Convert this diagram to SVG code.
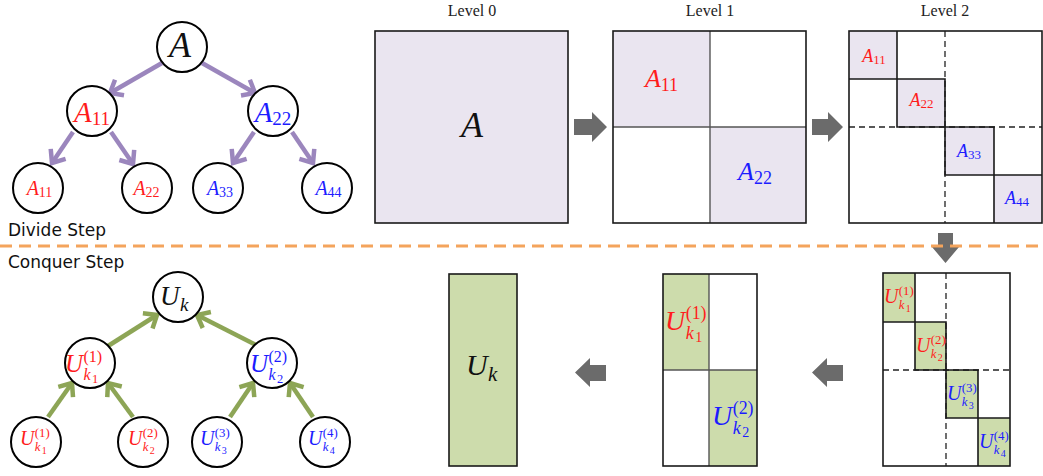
<svg xmlns="http://www.w3.org/2000/svg" width="1043" height="476" viewBox="0 0 1043 476">
<style>
.node circle{fill:#fff;stroke:#000;stroke-width:2}
.m{font-family:"Liberation Serif","DejaVu Serif",serif}
.i{font-style:italic}
.red{fill:#ff1c1c}
.blue{fill:#1c1cff}
.blk{fill:#111}
.lvl{font-family:"Liberation Serif",serif;font-size:16px;fill:#222;text-anchor:middle}
.step{font-family:"DejaVu Sans",sans-serif;font-size:17px;fill:#111}
.mat{stroke:#1a1a1a;stroke-width:1.6;fill:none}
.inner{stroke:#555;stroke-width:1.4;fill:none}
.lav{fill:#eae5f0}
.grn{fill:#cddcac}
.dash{stroke:#222;stroke-width:1.3;stroke-dasharray:6 4;fill:none}
.garr{fill:#6b6b6b}
.pe{stroke:#9b86bd;stroke-width:4.5;fill:none}
.ge{stroke:#8da556;stroke-width:4.5;fill:none}
.c{text-anchor:middle}
</style>
<defs>
<marker id="ap" markerUnits="userSpaceOnUse" orient="auto" overflow="visible" markerWidth="20" markerHeight="20" refX="0" refY="0">
<path d="M-11,-9 L0,0 L-11,9" fill="none" stroke="#9b86bd" stroke-width="4.5"/>
</marker>
<marker id="ag" markerUnits="userSpaceOnUse" orient="auto" overflow="visible" markerWidth="20" markerHeight="20" refX="0" refY="0">
<path d="M-11,-9 L0,0 L-11,9" fill="none" stroke="#8da556" stroke-width="4.5"/>
</marker>
</defs>
<rect width="1043" height="476" fill="#fff"/>

<!-- connectors -->
<g id="connectors">
<line class="pe" x1="162" y1="63" x2="110" y2="93" marker-end="url(#ap)"/>
<line class="pe" x1="202" y1="63" x2="255" y2="93" marker-end="url(#ap)"/>
<line class="pe" x1="73" y1="132" x2="52" y2="163" marker-end="url(#ap)"/>
<line class="pe" x1="111" y1="132" x2="133" y2="164" marker-end="url(#ap)"/>
<line class="pe" x1="254" y1="132" x2="233" y2="163" marker-end="url(#ap)"/>
<line class="pe" x1="292" y1="132" x2="313" y2="163" marker-end="url(#ap)"/>
<line class="ge" x1="48" y1="417" x2="72" y2="383" marker-end="url(#ag)"/>
<line class="ge" x1="133" y1="417" x2="108" y2="383" marker-end="url(#ag)"/>
<line class="ge" x1="230" y1="417" x2="253" y2="383" marker-end="url(#ag)"/>
<line class="ge" x1="313" y1="417" x2="290" y2="383" marker-end="url(#ag)"/>
<line class="ge" x1="108" y1="346" x2="157" y2="315" marker-end="url(#ag)"/>
<line class="ge" x1="258" y1="346" x2="197" y2="315" marker-end="url(#ag)"/>
<path class="garr" d="M574,119 H592 V112 L607,127 L592,142 V135 H574 Z"/>
<path class="garr" d="M812,119 H828 V112 L843,127 L828,142 V135 H812 Z"/>
<path class="garr" d="M938,233 H953 V247 H959 L945.5,263 L932,247 H938 Z"/>
<path class="garr" d="M606,365 H590 V358 L575,372.5 L590,387 V381 H606 Z"/>
<path class="garr" d="M843,365 H827 V358 L812,372.5 L827,387 V381 H843 Z"/>
</g>

<line x1="0" y1="246" x2="1043" y2="246" stroke="#f4a45c" stroke-width="3" stroke-dasharray="12 7"/>

<text class="step" x="8" y="236">Divide Step</text>
<text class="step" x="8" y="268">Conquer Step</text>

<!-- divide tree -->
<g id="dA" class="node"><circle cx="182" cy="47" r="25"/><text class="m i c blk" x="180" y="57" font-size="36">A</text></g>
<g id="dA11" class="node"><circle cx="92" cy="111" r="25"/><text class="m c red" x="92" y="122" font-size="29"><tspan class="i">A</tspan><tspan font-size="19" dy="3">11</tspan></text></g>
<g id="dA22" class="node"><circle cx="273" cy="111" r="25"/><text class="m c blue" x="273" y="122" font-size="29"><tspan class="i">A</tspan><tspan font-size="19" dy="3">22</tspan></text></g>
<g id="dL11" class="node"><circle cx="38" cy="188" r="25"/><text class="m c red" x="39.5" y="195" font-size="20"><tspan class="i">A</tspan><tspan font-size="14" dy="2">11</tspan></text></g>
<g id="dL22" class="node"><circle cx="147" cy="188" r="25"/><text class="m c red" x="146.5" y="195" font-size="20"><tspan class="i">A</tspan><tspan font-size="14" dy="2">22</tspan></text></g>
<g id="dL33" class="node"><circle cx="218" cy="188" r="25"/><text class="m c blue" x="220" y="195" font-size="20"><tspan class="i">A</tspan><tspan font-size="14" dy="2">33</tspan></text></g>
<g id="dL44" class="node"><circle cx="327" cy="188" r="25"/><text class="m c blue" x="328.5" y="195" font-size="20"><tspan class="i">A</tspan><tspan font-size="14" dy="2">44</tspan></text></g>

<!-- conquer tree -->
<g id="cUk" class="node"><circle cx="178" cy="297" r="25"/><text class="m blk" font-size="27"><tspan class="i" x="160" y="305">U</tspan><tspan class="i" x="180" y="311" font-size="19">k</tspan></text></g>
<g id="cU1" class="node"><circle cx="90" cy="363" r="25"/><text class="m red" font-size="25"><tspan class="i" x="65" y="372">U</tspan><tspan x="83.5" y="362" font-size="16">(1)</tspan><tspan class="i" x="83.5" y="380" font-size="16">k</tspan><tspan x="92" y="383" font-size="12.5">1</tspan></text></g>
<g id="cU2" class="node"><circle cx="272" cy="363" r="25"/><text class="m blue" font-size="25"><tspan class="i" x="250" y="372">U</tspan><tspan x="268.5" y="362" font-size="16">(2)</tspan><tspan class="i" x="268.5" y="380" font-size="16">k</tspan><tspan x="277" y="383" font-size="12.5">2</tspan></text></g>
<g id="cL1" class="node"><circle cx="36" cy="442" r="25"/><text class="m red" font-size="20"><tspan class="i" x="20" y="445">U</tspan><tspan x="34.8" y="437" font-size="12.8">(1)</tspan><tspan class="i" x="34.8" y="451.4" font-size="12.8">k</tspan><tspan x="41.8" y="454" font-size="10">1</tspan></text></g>
<g id="cL2" class="node"><circle cx="143" cy="442" r="25"/><text class="m red" font-size="20"><tspan class="i" x="128" y="445">U</tspan><tspan x="142.8" y="437" font-size="12.8">(2)</tspan><tspan class="i" x="142.8" y="451.4" font-size="12.8">k</tspan><tspan x="149.8" y="454" font-size="10">2</tspan></text></g>
<g id="cL3" class="node"><circle cx="217" cy="442" r="25"/><text class="m blue" font-size="20"><tspan class="i" x="200" y="445">U</tspan><tspan x="214.8" y="437" font-size="12.8">(3)</tspan><tspan class="i" x="214.8" y="451.4" font-size="12.8">k</tspan><tspan x="221.8" y="454" font-size="10">3</tspan></text></g>
<g id="cL4" class="node"><circle cx="325" cy="442" r="25"/><text class="m blue" font-size="20"><tspan class="i" x="308" y="445">U</tspan><tspan x="322.8" y="437" font-size="12.8">(4)</tspan><tspan class="i" x="322.8" y="451.4" font-size="12.8">k</tspan><tspan x="329.8" y="454" font-size="10">4</tspan></text></g>

<!-- divide matrices -->
<g id="level0">
<text class="lvl" x="472" y="16">Level 0</text>
<rect class="lav" x="375" y="31" width="193" height="192"/>
<rect class="mat" x="375" y="31" width="193" height="192"/>
<text class="m i c blk" x="472" y="137" font-size="36">A</text>
</g>
<g id="level1">
<text class="lvl" x="710" y="16">Level 1</text>
<rect class="lav" x="613" y="31" width="97" height="96"/>
<rect class="lav" x="710" y="127" width="96" height="96"/>
<line class="inner" x1="710" y1="31" x2="710" y2="223"/>
<line class="inner" x1="613" y1="127" x2="806" y2="127"/>
<rect class="mat" x="613" y="31" width="193" height="192"/>
<text class="m c red" x="661.5" y="87" font-size="26"><tspan class="i">A</tspan><tspan font-size="18" dy="4">11</tspan></text>
<text class="m c blue" x="755" y="180" font-size="26"><tspan class="i">A</tspan><tspan font-size="18" dy="4">22</tspan></text>
</g>
<g id="level2">
<text class="lvl" x="945" y="16">Level 2</text>
<rect class="lav" x="849" y="31" width="48" height="48"/>
<rect class="lav" x="897" y="79" width="48" height="48"/>
<rect class="lav" x="945" y="127" width="49" height="48"/>
<rect class="lav" x="994" y="175" width="48" height="48"/>
<line class="dash" x1="945" y1="31" x2="945" y2="223"/>
<line class="dash" x1="849" y1="127" x2="1042" y2="127"/>
<path class="mat" d="M849,79 H897 V31 M897,79 V127 H945 V79 H897 M945,127 H994 V175 H945 Z M994,175 H1042 M994,175 V223"/>
<rect class="mat" x="849" y="31" width="193" height="192"/>
<text class="m c red" x="874" y="62" font-size="18"><tspan class="i">A</tspan><tspan font-size="13" dy="2">11</tspan></text>
<text class="m c red" x="921.5" y="106" font-size="18"><tspan class="i">A</tspan><tspan font-size="13" dy="2">22</tspan></text>
<text class="m c blue" x="969" y="157" font-size="18"><tspan class="i">A</tspan><tspan font-size="13" dy="2">33</tspan></text>
<text class="m c blue" x="1017" y="204" font-size="18"><tspan class="i">A</tspan><tspan font-size="13" dy="2">44</tspan></text>
</g>

<!-- conquer matrices -->
<g id="clevel0">
<rect class="grn" x="449" y="274" width="68" height="192"/>
<rect class="mat" x="449" y="274" width="68" height="192"/>
<text class="m blk" font-size="30"><tspan class="i" x="466" y="375">U</tspan><tspan class="i" x="488" y="381" font-size="21">k</tspan></text>
</g>
<g id="clevel1">
<rect class="grn" x="663" y="274" width="46" height="96"/>
<rect class="grn" x="709" y="370" width="48" height="96"/>
<line class="inner" x1="709" y1="274" x2="709" y2="466"/>
<line class="inner" x1="663" y1="370" x2="757" y2="370"/>
<rect class="mat" x="663" y="274" width="94" height="192"/>
<text class="m red" font-size="28"><tspan class="i" x="665" y="330">U</tspan><tspan x="685.7" y="318.8" font-size="17.9">(1)</tspan><tspan class="i" x="685.7" y="339" font-size="17.9">k</tspan><tspan x="695.3" y="342.3" font-size="14">1</tspan></text>
<text class="m blue" font-size="28"><tspan class="i" x="712" y="425">U</tspan><tspan x="732.7" y="413.8" font-size="17.9">(2)</tspan><tspan class="i" x="732.7" y="434" font-size="17.9">k</tspan><tspan x="742.3" y="437.3" font-size="14">2</tspan></text>
</g>
<g id="clevel2">
<rect class="grn" x="883" y="273" width="32" height="49"/>
<rect class="grn" x="915" y="322" width="31" height="48"/>
<rect class="grn" x="946" y="370" width="32" height="48"/>
<rect class="grn" x="978" y="418" width="32" height="48"/>
<line class="dash" x1="946" y1="273" x2="946" y2="466"/>
<line class="dash" x1="883" y1="370" x2="1010" y2="370"/>
<path class="mat" d="M883,322 H915 V273 M915,322 V370 H946 V322 H915 M946,370 H978 V418 H946 Z M978,418 H1010 M978,418 V466"/>
<rect class="mat" x="883" y="273" width="127" height="193"/>
<text class="m red" font-size="20"><tspan class="i" x="884" y="303">U</tspan><tspan x="898.8" y="295" font-size="12.8">(1)</tspan><tspan class="i" x="898.8" y="309.4" font-size="12.8">k</tspan><tspan x="905.8" y="312" font-size="10">1</tspan></text>
<text class="m red" font-size="20"><tspan class="i" x="916" y="352">U</tspan><tspan x="930.8" y="344" font-size="12.8">(2)</tspan><tspan class="i" x="930.8" y="358.4" font-size="12.8">k</tspan><tspan x="937.8" y="361" font-size="10">2</tspan></text>
<text class="m blue" font-size="20"><tspan class="i" x="947" y="400">U</tspan><tspan x="961.8" y="392" font-size="12.8">(3)</tspan><tspan class="i" x="961.8" y="406.4" font-size="12.8">k</tspan><tspan x="968.8" y="409" font-size="10">3</tspan></text>
<text class="m blue" font-size="20"><tspan class="i" x="979" y="448">U</tspan><tspan x="993.8" y="440" font-size="12.8">(4)</tspan><tspan class="i" x="993.8" y="454.4" font-size="12.8">k</tspan><tspan x="1000.8" y="457" font-size="10">4</tspan></text>
</g>
</svg>
